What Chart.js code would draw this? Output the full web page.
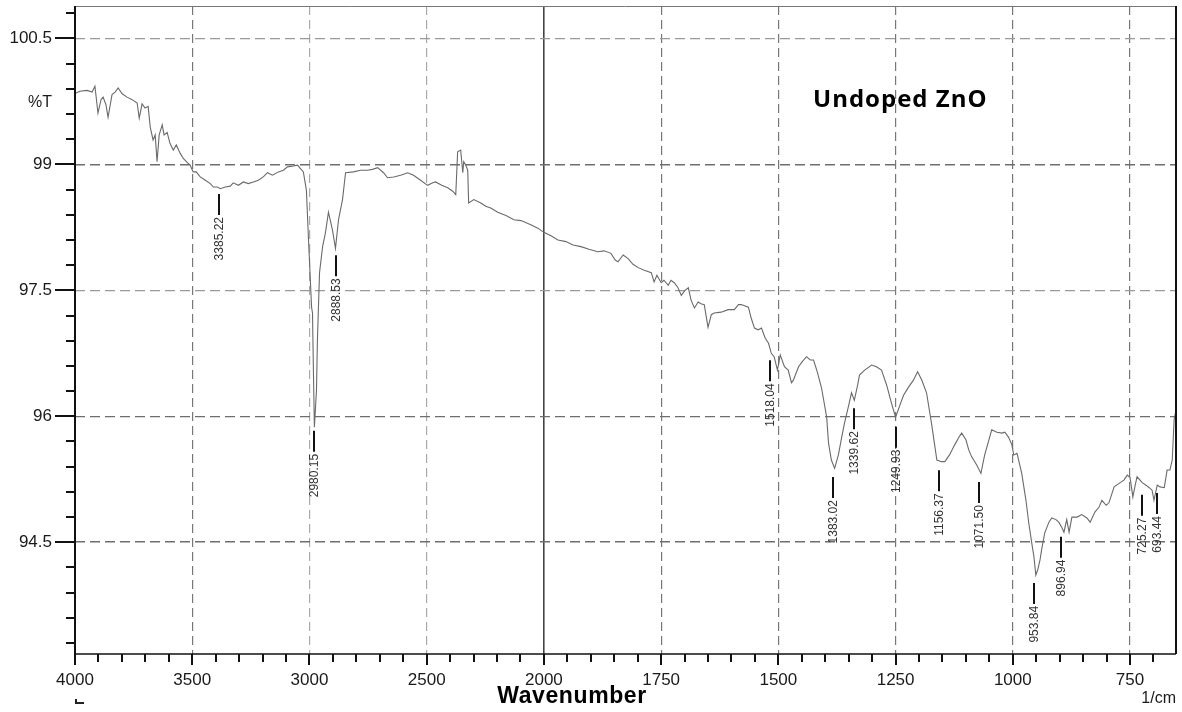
<!DOCTYPE html>
<html>
<head>
<meta charset="utf-8">
<script src="https://cdn.jsdelivr.net/npm/chart.js@4.4.1/dist/chart.umd.min.js"></script>
<style>
  html, body { margin: 0; padding: 0; background: #ffffff; }
  #wrap { width: 1182px; height: 712px; }
</style>
</head>
<body>
<div id="wrap"><canvas id="c" width="1182" height="712"></canvas></div>
<script>
// ---------------- data ----------------
const chartTitle = "Undoped ZnO";
const xAxisTitle = "Wavenumber";
const xUnit = "1/cm";
const yAxisTitle = "%T";

const wavenumbers = [
  3996, 3979, 3949, 3927, 3915, 3902, 3889, 3880, 3868, 3859, 3842, 3829, 3816, 3799, 3778, 3756,
  3735, 3726, 3714, 3701, 3688, 3679, 3667, 3658, 3650, 3641, 3628, 3620, 3607, 3595, 3581, 3568,
  3551, 3538, 3521, 3509, 3496, 3483, 3466, 3444, 3423, 3410, 3393, 3380, 3359, 3338, 3325, 3303,
  3282, 3261, 3239, 3218, 3197, 3179, 3158, 3132, 3111, 3094, 3068, 3051, 3026, 3013, 3004, 2991,
  2987, 2983, 2979, 2970, 2966, 2957, 2944, 2932, 2919, 2902, 2889, 2876, 2859, 2846, 2812, 2782,
  2752, 2731, 2709, 2684, 2667, 2641, 2611, 2581, 2556, 2526, 2496, 2474, 2462, 2436, 2410, 2389,
  2376, 2368, 2355, 2346, 2342, 2333, 2325, 2321, 2299, 2269, 2248, 2227, 2197, 2162, 2128, 2098,
  2056, 2026, 2000, 1985, 1970, 1953, 1938, 1921, 1904, 1885, 1872, 1857, 1848, 1842, 1831, 1821,
  1810, 1799, 1786, 1771, 1765, 1759, 1750, 1744, 1735, 1729, 1722, 1714, 1707, 1699, 1692, 1686,
  1679, 1671, 1665, 1658, 1650, 1643, 1637, 1622, 1607, 1594, 1585, 1579, 1564, 1558, 1551, 1543,
  1536, 1528, 1521, 1515, 1509, 1502, 1496, 1487, 1479, 1472, 1468, 1457, 1449, 1440, 1432, 1425,
  1417, 1408, 1397, 1393, 1387, 1380, 1372, 1365, 1359, 1350, 1344, 1338, 1331, 1327, 1316, 1301,
  1291, 1280, 1269, 1259, 1250, 1241, 1233, 1222, 1212, 1203, 1194, 1184, 1173, 1162, 1152, 1145,
  1135, 1124, 1115, 1109, 1100, 1094, 1088, 1077, 1068, 1060, 1051, 1045, 1034, 1023, 1017, 1009,
  1002, 998, 991, 981, 972, 966, 959, 955, 951, 947, 942, 938, 932, 923, 917, 908,
  902, 895, 891, 885, 880, 874, 863, 853, 842, 835, 825, 816, 810, 801, 795, 784,
  771, 763, 756, 750, 744, 739, 735, 724, 716, 709, 703, 699, 692, 686, 677, 671,
  665, 660, 656, 652
];
const transmittance = [
  99.85, 99.87, 99.88, 99.86, 99.93, 99.61, 99.77, 99.80, 99.71, 99.56, 99.83, 99.86, 99.91, 99.84, 99.80, 99.77,
  99.73, 99.55, 99.72, 99.67, 99.69, 99.44, 99.29, 99.35, 99.03, 99.35, 99.47, 99.35, 99.38, 99.25, 99.17, 99.23,
  99.13, 99.07, 99.02, 98.99, 98.91, 98.91, 98.85, 98.81, 98.77, 98.73, 98.73, 98.71, 98.73, 98.74, 98.78, 98.75,
  98.79, 98.77, 98.79, 98.81, 98.85, 98.90, 98.87, 98.91, 98.93, 98.97, 98.98, 98.99, 98.91, 98.69, 98.10, 97.30,
  97.23, 96.52, 95.87, 96.31, 96.91, 97.71, 98.02, 98.18, 98.43, 98.22, 98.00, 98.34, 98.58, 98.90, 98.91, 98.93,
  98.93, 98.94, 98.96, 98.90, 98.84, 98.85, 98.87, 98.90, 98.87, 98.81, 98.75, 98.78, 98.79, 98.75, 98.72, 98.68,
  98.64, 99.15, 99.17, 98.90, 99.03, 98.99, 98.93, 98.54, 98.58, 98.54, 98.50, 98.48, 98.43, 98.39, 98.34, 98.33,
  98.28, 98.24, 98.19, 98.15, 98.10, 98.08, 98.04, 98.02, 97.99, 97.96, 97.97, 97.94, 97.86, 97.84, 97.92, 97.88,
  97.81, 97.77, 97.74, 97.71, 97.60, 97.68, 97.59, 97.62, 97.56, 97.62, 97.59, 97.53, 97.44, 97.50, 97.53, 97.38,
  97.29, 97.36, 97.34, 97.33, 97.06, 97.21, 97.23, 97.24, 97.27, 97.27, 97.33, 97.33, 97.30, 97.17, 97.05, 97.03,
  97.05, 96.93, 96.87, 96.75, 96.71, 96.55, 96.73, 96.59, 96.55, 96.40, 96.43, 96.59, 96.65, 96.71, 96.67, 96.67,
  96.53, 96.34, 95.99, 95.68, 95.48, 95.38, 95.54, 95.75, 95.92, 96.13, 96.28, 96.19, 96.37, 96.49, 96.55, 96.61,
  96.59, 96.55, 96.37, 96.16, 95.99, 96.13, 96.25, 96.35, 96.43, 96.53, 96.43, 96.28, 95.90, 95.48, 95.46, 95.46,
  95.54, 95.66, 95.75, 95.80, 95.72, 95.60, 95.52, 95.42, 95.32, 95.54, 95.72, 95.84, 95.81, 95.80, 95.81, 95.75,
  95.66, 95.54, 95.56, 95.32, 95.00, 94.73, 94.47, 94.33, 94.11, 94.17, 94.29, 94.43, 94.61, 94.74, 94.79, 94.77,
  94.74, 94.67, 94.62, 94.77, 94.62, 94.80, 94.80, 94.83, 94.79, 94.74, 94.86, 94.92, 95.00, 94.94, 94.97, 95.16,
  95.21, 95.24, 95.30, 95.27, 95.04, 95.18, 95.28, 95.21, 95.18, 95.15, 95.12, 95.00, 95.18, 95.16, 95.15, 95.36,
  95.36, 95.48, 95.96, 96.07
];

// labelled peaks
const peakLabels = ["3385.22", "2980.15", "2888.53", "1518.04", "1383.02", "1339.62", "1249.93",
                    "1156.37", "1071.50", "953.84", "896.94", "725.27", "693.44"];
const peakWavenumbers = [3385.22, 2980.15, 2888.53, 1518.04, 1383.02, 1339.62, 1249.93,
                         1156.37, 1071.50, 953.84, 896.94, 725.27, 693.44];
const peakTransmittance = [98.73, 95.91, 98.00, 96.75, 95.36, 96.18, 95.96,
                           95.44, 95.30, 94.10, 94.65, 95.15, 95.17];

// axes
const xMajorTicks = [4000, 3500, 3000, 2500, 2000, 1750, 1500, 1250, 1000, 750];
const xMinorTicks = [3900, 3800, 3700, 3600, 3400, 3300, 3200, 3100, 2900, 2800, 2700, 2600,
                     2400, 2300, 2200, 2100, 1950, 1900, 1850, 1800, 1700, 1650, 1600, 1550,
                     1450, 1400, 1350, 1300, 1200, 1150, 1100, 1050, 950, 900, 850, 800, 700];
const yMajorTicks = [94.5, 96, 97.5, 99, 100.5];
const yMinorTicks = [93.3, 93.6, 93.9, 94.2, 94.8, 95.1, 95.4, 95.7, 96.3, 96.6, 96.9, 97.2,
                     97.8, 98.1, 98.4, 98.7, 99.3, 99.6, 99.9, 100.2, 100.8];
const xMin = 652, xMax = 4000;
const yMin = 93.17, yMax = 100.885;
// wavenumber axis is compressed by 2 above this value (standard FTIR display)
const FOLD_AT = 2000, FOLD_RATIO = 2;

// ---------------- custom folded scale ----------------
class FoldScale extends Chart.LinearScale {
  static id = 'fold';
  fold(v) { return v <= FOLD_AT ? v : FOLD_AT + (v - FOLD_AT) / FOLD_RATIO; }
  unfold(u) { return u <= FOLD_AT ? u : FOLD_AT + (u - FOLD_AT) * FOLD_RATIO; }
  getPixelForValue(value) {
    if (value === null || value === undefined || isNaN(value)) return NaN;
    const a = this.fold(this.min), b = this.fold(this.max);
    return this.getPixelForDecimal((this.fold(value) - a) / (b - a));
  }
  getValueForPixel(pixel) {
    const a = this.fold(this.min), b = this.fold(this.max);
    return this.unfold(a + this.getDecimalForPixel(pixel) * (b - a));
  }
}
Chart.register(FoldScale);

const FONT = '"Liberation Sans", Arial, sans-serif';

const deco = {
  id: 'deco',
  afterDatasetsDraw(chart) {
    const { ctx, scales: { x, y } } = chart;
    ctx.save();
    peakWavenumbers.forEach((w, i) => {
      const px = Math.round(x.getPixelForValue(w));
      const py = y.getPixelForValue(peakTransmittance[i]);
      const y0 = py + 7, y1 = y0 + 21;
      ctx.strokeStyle = '#111';
      ctx.lineWidth = 2;
      ctx.beginPath(); ctx.moveTo(px, y0); ctx.lineTo(px, y1); ctx.stroke();
      ctx.save();
      ctx.translate(px + 1, y1 + 2);
      ctx.rotate(-Math.PI / 2);
      ctx.font = '12px ' + FONT;
      ctx.fillStyle = '#333';
      ctx.textAlign = 'right';
      ctx.textBaseline = 'middle';
      ctx.fillText(peakLabels[i], 0, 0);
      ctx.restore();
    });
    ctx.restore();
  },
  afterDraw(chart) {
    const { ctx, chartArea: a, scales: { x, y } } = chart;
    ctx.save();
    // frame
    ctx.strokeStyle = '#777'; ctx.lineWidth = 1;
    ctx.beginPath(); ctx.moveTo(a.left, a.top + 0.5); ctx.lineTo(a.right, a.top + 0.5); ctx.stroke();
    ctx.strokeStyle = '#111'; ctx.lineWidth = 2;
    ctx.beginPath(); ctx.moveTo(a.right, a.top); ctx.lineTo(a.right, a.bottom); ctx.stroke();
    ctx.beginPath(); ctx.moveTo(a.left, a.top); ctx.lineTo(a.left, a.bottom); ctx.stroke();
    ctx.lineWidth = 1.5;
    ctx.beginPath(); ctx.moveTo(a.left, a.bottom); ctx.lineTo(a.right, a.bottom); ctx.stroke();
    // tick marks
    ctx.lineWidth = 2; ctx.strokeStyle = '#111';
    yMajorTicks.forEach(v => { const p = Math.round(y.getPixelForValue(v)); ctx.beginPath(); ctx.moveTo(a.left - 20, p); ctx.lineTo(a.left, p); ctx.stroke(); });
    yMinorTicks.forEach(v => { const p = Math.round(y.getPixelForValue(v)); ctx.beginPath(); ctx.moveTo(a.left - 9, p); ctx.lineTo(a.left, p); ctx.stroke(); });
    xMajorTicks.forEach(v => { const p = Math.round(x.getPixelForValue(v)); ctx.beginPath(); ctx.moveTo(p, a.bottom); ctx.lineTo(p, a.bottom + 11); ctx.stroke(); });
    xMinorTicks.forEach(v => { const p = Math.round(x.getPixelForValue(v)); ctx.beginPath(); ctx.moveTo(p, a.bottom); ctx.lineTo(p, a.bottom + 8); ctx.stroke(); });
    // texts
    ctx.fillStyle = '#1a1a1a';
    ctx.font = '16px ' + FONT;
    ctx.textAlign = 'right'; ctx.textBaseline = 'middle';
    ctx.fillText(yAxisTitle, a.left - 23, 103);
    ctx.textBaseline = 'alphabetic';
    ctx.fillText(xUnit, a.right, 703);
    ctx.fillStyle = '#000';
    ctx.font = 'bold 23px ' + FONT;
    ctx.textAlign = 'center';
    try { ctx.letterSpacing = '0.6px'; } catch (e) {}
    ctx.fillText(xAxisTitle, 572, 703);
    ctx.font = 'bold 24px "Open Sans", sans-serif';
    ctx.textAlign = 'left';
    try { ctx.letterSpacing = '1px'; } catch (e) {}
    ctx.fillText(chartTitle, 813, 107);
    try { ctx.letterSpacing = '0px'; } catch (e) {}
    // small mark under the origin
    ctx.strokeStyle = '#222'; ctx.lineWidth = 2;
    ctx.beginPath(); ctx.moveTo(a.left + 1, 699); ctx.lineTo(a.left + 1, 703); ctx.lineTo(a.left + 9, 703); ctx.stroke();
    ctx.restore();
  }
};

const xGridColor = v => v === 2000 ? '#444' : (v === 4000 ? 'rgba(0,0,0,0)' : ((v === 3000 || v === 2500) ? '#aaa' : '#777'));
const yGridColor = v => (v === 100.5 || v === 97.5) ? '#999' : '#6e6e6e';

new Chart(document.getElementById('c'), {
  type: 'line',
  data: {
    datasets: [{
      data: wavenumbers.map((w, i) => ({ x: w, y: transmittance[i] })),
      borderColor: '#6a6a6a',
      borderWidth: 1.1,
      pointRadius: 0,
      tension: 0,
      fill: false
    }]
  },
  options: {
    responsive: false,
    animation: false,
    devicePixelRatio: 1,
    layout: { padding: { left: 0, right: 6, top: 6, bottom: 0 } },
    plugins: { legend: { display: false }, tooltip: { enabled: false } },
    scales: {
      x: {
        type: 'fold',
        reverse: true,
        min: xMin, max: xMax,
        bounds: 'data',
        afterBuildTicks: s => { s.ticks = xMajorTicks.map(v => ({ value: v })); },
        afterFit: s => { s.height = 58; s.paddingLeft = 0; s.paddingRight = 0; },
        grid: {
          drawTicks: false,
          color: c => c.tick ? xGridColor(c.tick.value) : '#777',
          lineWidth: c => (c.tick && c.tick.value === 2000) ? 1.6 : 1.2
        },
        border: {
          display: false,
          dash: c => (c.tick && c.tick.value === 2000) ? [] : [9, 5]
        },
        ticks: {
          autoSkip: false, maxRotation: 0, minRotation: 0,
          padding: 16,
          color: '#1a1a1a',
          font: { family: FONT, size: 17 },
          callback: v => String(v)
        }
      },
      y: {
        type: 'linear',
        min: yMin, max: yMax,
        bounds: 'data',
        afterBuildTicks: s => { s.ticks = yMajorTicks.map(v => ({ value: v })); },
        afterFit: s => { s.width = 75; s.paddingTop = 0; s.paddingBottom = 0; },
        grid: {
          drawTicks: false,
          color: c => c.tick ? yGridColor(c.tick.value) : '#777',
          lineWidth: c => (c.tick && (c.tick.value === 99 || c.tick.value === 94.5)) ? 1.6 : 1.2
        },
        border: { display: false, dash: [10, 5] },
        ticks: {
          padding: 23,
          color: '#1a1a1a',
          font: { family: FONT, size: 17 },
          callback: v => String(v)
        }
      }
    }
  },
  plugins: [deco]
});
</script>
</body>
</html>
